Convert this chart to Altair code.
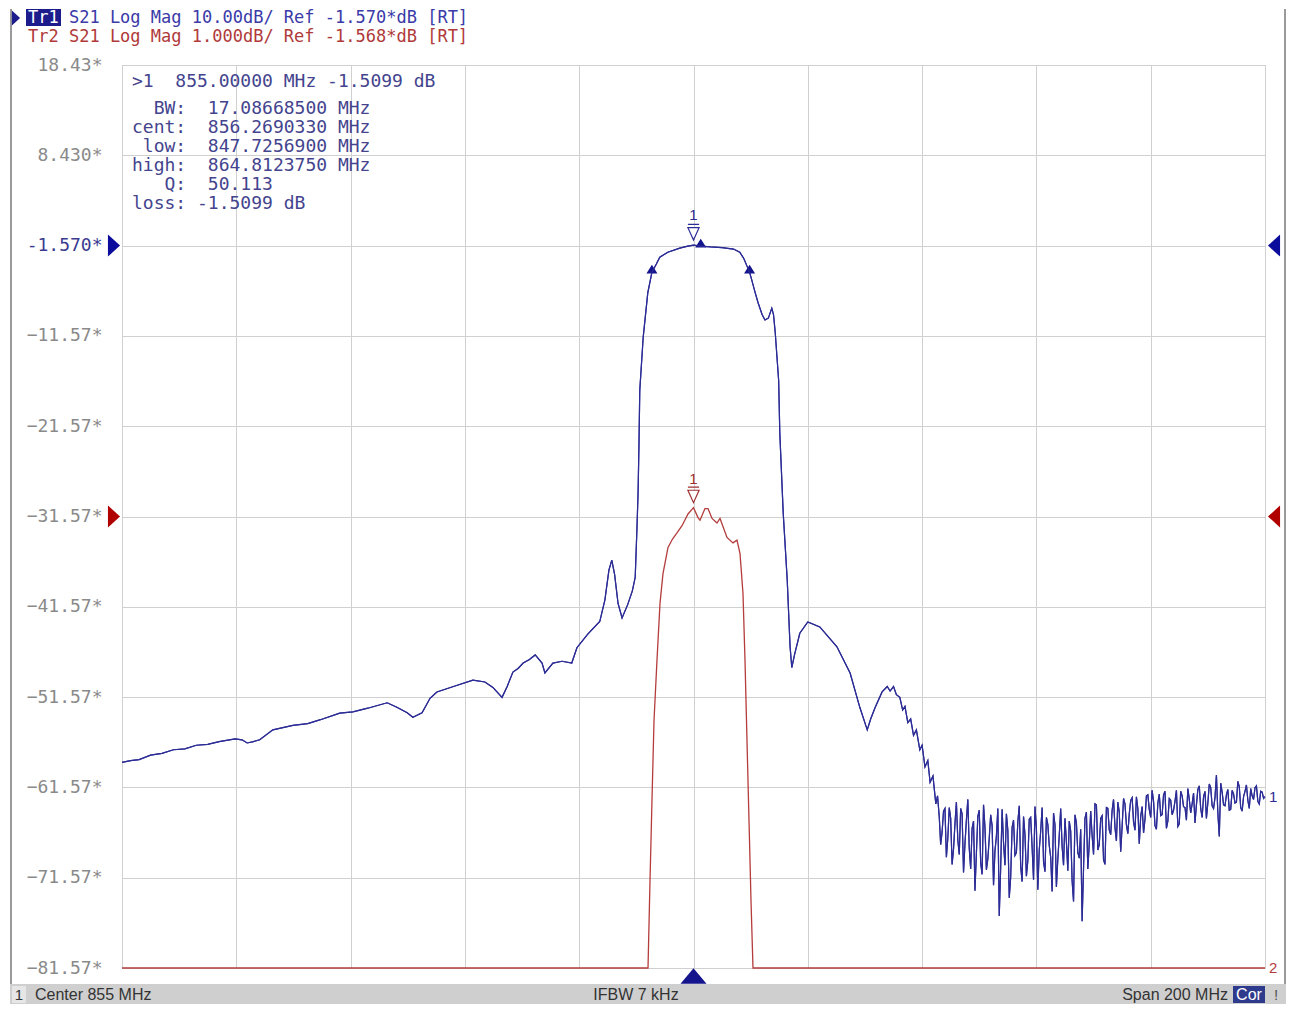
import altair as alt
import pandas as pd

# ---------------- data ----------------
X_GRID = [755, 775, 795, 815, 835, 855, 875, 895, 915, 935, 955]
Y_GRID = [18.43, 8.43, -1.57, -11.57, -21.57, -31.57, -41.57, -51.57, -61.57, -71.57, -81.57]

# Tr1 (S21, 10 dB/div) - smooth part
tr1_freq = [755.0, 756.5, 758.0, 760.0, 762.0, 764.0, 766.0, 768.0, 770.0, 772.0,
            774.8, 776.0, 776.9, 778.0, 779.1, 781.4, 784.9, 787.5, 789.6, 793.1,
            795.4, 798.0, 801.4, 803.1, 804.9, 805.9, 807.5, 808.9, 810.1, 813.0,
            816.4, 818.5, 819.9, 821.5, 822.4, 823.4, 824.3, 825.2, 826.3, 827.3,
            828.5, 829.0, 830.4, 832.0, 833.7, 834.6, 836.5, 838.6, 839.5, 840.2,
            840.7, 841.2, 841.8, 842.5, 843.5, 844.3, 844.8, 845.1, 845.3, 845.45,
            845.6, 846.2, 847.0, 847.73, 848.5, 849.1, 850.5, 852.6, 854.0, 855.0,
            856.27, 858.0, 860.0, 862.0, 863.1, 863.8, 864.4, 864.81, 865.2, 865.8,
            866.3, 867.0, 867.5, 868.1, 868.7, 869.0, 869.3, 869.9, 870.1, 870.7,
            871.4, 871.9, 872.2, 872.7, 873.6, 875.0, 877.1, 880.1, 882.4, 884.1,
            885.4, 886.0, 886.8, 888.0, 888.9, 889.4, 890.0, 890.5, 891.1, 891.6,
            892.0, 892.5, 893.0, 893.5, 894.0, 894.6, 895.0, 895.5, 896.0, 896.4,
            896.9, 897.4, 897.7]
tr1_db = [-58.8, -58.6, -58.5, -58.0, -57.8, -57.4, -57.3, -56.9, -56.8, -56.5,
          -56.2, -56.3, -56.65, -56.5, -56.3, -55.2, -54.7, -54.5, -54.1, -53.35,
          -53.2, -52.8, -52.2, -52.7, -53.3, -53.8, -53.3, -51.7, -51.0, -50.4,
          -49.7, -49.9, -50.5, -51.6, -50.4, -48.8, -48.4, -47.8, -47.4, -46.9,
          -47.8, -48.9, -47.8, -47.6, -47.8, -46.1, -44.6, -43.2, -40.8, -37.5,
          -36.4, -38.0, -41.2, -42.8, -41.3, -39.8, -38.3, -33.0, -29.0, -23.9,
          -17.6, -11.7, -6.8, -4.51, -3.6, -2.85, -2.3, -1.85, -1.62, -1.51,
          -1.62, -1.72, -1.80, -1.95, -2.3, -3.0, -3.9, -4.51, -5.4, -6.8,
          -7.9, -9.2, -9.8, -9.6, -8.5, -9.2, -11.2, -16.5, -22.3, -31.2,
          -38.6, -46.0, -48.3, -46.8, -44.5, -43.25, -43.8, -46.0, -48.9, -52.7,
          -55.2, -54.0, -52.7, -51.0, -50.4, -50.9, -50.4, -51.3, -51.6, -53.0,
          -52.6, -54.4, -54.0, -55.8, -55.2, -57.4, -56.9, -59.3, -58.6, -61.0,
          -60.3, -63.4, -62.5]

# Tr1 noisy floor: sweep points every 0.25 MHz from 898 MHz, given as two interleaved lists
tr1_noise_start = 898.0
tr1_noise_step = 0.5
tr1_noise_db_a = [-64.8, -66.5, -63.9, -67.2, -65.0, -68.4, -63.2, -69.0, -64.5, -67.8,
                  -62.9, -70.6, -65.3, -68.9, -64.1, -71.2, -66.0, -69.5, -64.6, -72.4,
                  -67.0, -75.8, -64.0, -70.2, -66.3, -71.5, -65.2, -68.8, -63.6, -72.0,
                  -66.8, -69.7, -64.9, -71.8, -66.1, -68.5, -63.8, -70.9, -65.7, -69.3,
                  -64.4, -72.6, -66.9, -68.1, -65.0, -70.8, -66.4, -74.2, -65.5, -69.4,
                  -76.4, -65.0, -70.6, -64.2, -69.0, -63.5, -67.9, -64.7, -70.1, -63.9,
                  -66.8, -62.9, -67.5, -64.3, -65.9, -63.4, -66.7, -63.0, -65.4, -62.6,
                  -67.8, -63.7, -65.1, -62.4, -64.9, -63.1, -66.2, -62.3, -64.6, -62.0,
                  -65.3, -63.0, -64.1, -61.9, -65.6, -62.5, -63.8, -61.7, -64.4, -62.2,
                  -63.5, -61.4, -64.9, -62.0, -63.3, -61.6, -63.9, -60.2, -67.0, -62.1,
                  -63.6, -61.8, -64.0, -62.3, -63.2, -61.5, -64.2, -62.0, -63.0, -61.7,
                  -62.9, -61.4, -63.4, -62.1, -62.6]
tr1_noise_db_b = [-67.9, -64.2, -69.3, -63.8, -70.1, -65.6, -67.4, -63.9, -71.0, -65.2,
                  -68.3, -66.1, -73.0, -64.8, -69.9, -63.5, -70.7, -67.2, -65.8, -68.6,
                  -63.9, -70.4, -67.7, -64.5, -73.8, -66.0, -69.1, -65.4, -70.3, -64.8,
                  -71.4, -65.1, -68.2, -63.7, -72.9, -66.4, -69.8, -64.9, -68.0, -73.1,
                  -65.7, -69.5, -63.9, -70.2, -67.6, -65.3, -71.9, -64.6, -68.8, -66.2,
                  -70.5, -64.3, -67.8, -66.9, -63.4, -68.5, -65.0, -69.6, -63.8, -66.3,
                  -64.1, -66.0, -63.2, -68.7, -62.8, -65.7, -64.5, -62.7, -66.3, -63.9,
                  -64.8, -66.6, -62.5, -64.0, -61.9, -65.8, -63.3, -64.7, -62.4, -66.1,
                  -62.8, -64.6, -63.1, -65.9, -62.0, -63.7, -65.2, -62.9, -63.4, -65.5,
                  -61.8, -63.9, -62.6, -65.0, -61.2, -63.6, -62.7, -64.4, -61.1, -63.5,
                  -62.4, -64.1, -61.9, -63.3, -60.9, -63.8, -62.6, -61.3, -63.9, -62.5,
                  -61.6, -63.1, -62.0, -62.8]

# Tr2 (S21, 1 dB/div, ref -1.568 dB on the -31.57 grid line), in its own dB
tr2_freq = [755.0, 847.04, 847.39, 847.74, 848.09, 848.61, 849.14, 849.66, 850.54, 851.3,
            852.11, 852.99, 854.04, 855.0, 855.79, 856.14, 857.01, 857.54, 858.24, 859.11,
            859.64, 860.86, 861.91, 862.61, 863.14, 863.66, 864.01, 864.36, 864.71, 865.06,
            865.41, 955.0]
tr2_db = [-12.0, -6.6, -5.6, -4.7, -3.83, -3.16, -2.53, -2.20, -1.91, -1.82,
          -1.75, -1.67, -1.54, -1.47, -1.58, -1.61, -1.48, -1.48, -1.59, -1.64,
          -1.59, -1.80, -1.86, -1.83, -1.98, -2.42, -3.16, -4.05, -4.93, -5.82,
          -6.6, -12.0]

MARKER_FREQ = 855.0
BW_FREQS = [847.72569, 856.269033, 864.812375]
REF_LEVELS = [-1.57, -31.57]

HEADER_1 = "Tr1 S21 Log Mag 10.00dB/ Ref -1.570*dB [RT]"
HEADER_2 = "Tr2 S21 Log Mag 1.000dB/ Ref -1.568*dB [RT]"
MARKER_LINES = [
    ">1  855.00000 MHz -1.5099 dB",
    "  BW:  17.08668500 MHz",
    "cent:  856.2690330 MHz",
    " low:  847.7256900 MHz",
    "high:  864.8123750 MHz",
    "   Q:  50.113",
    "loss: -1.5099 dB",
]

# ---------------- styling ----------------
BLUE = "#2c2c96"
RED = "#b43c3c"
MONO = "DejaVu Sans Mono"
SANS = "Liberation Sans"
FS = 18
HFS = 17
W, H = 1143, 903

XS = alt.Scale(domain=[755, 955], nice=False, zero=False)
YS = alt.Scale(domain=[-81.57, 18.43], nice=False, zero=False)
AX = alt.Axis(values=X_GRID, grid=True, labels=False, ticks=False, domain=False,
              title=None, gridColor="#d0d0d0", gridWidth=1)
AY = alt.Axis(values=Y_GRID, grid=True, ticks=False, domain=False, title=None,
              gridColor="#d0d0d0", gridWidth=1, labelPadding=20,
              labelFont=MONO, labelFontSize=18, labelOverlap=False,
              labelColor={"condition": {"test": "datum.value == -1.57", "value": "#3a3a90"},
                          "value": "#8a8a8a"},
              labelExpr="datum.value == 8.43 ? '8.430*' : datum.value == -1.57 ? '-1.570*' : format(datum.value, '.2f') + '*'")


def X(field="freq"):
    return alt.X(f"{field}:Q", scale=XS, axis=AX)


def Y(field="db"):
    return alt.Y(f"{field}:Q", scale=YS, axis=AY)


def nb(s):
    return s.replace(" ", "\u00a0")


def label(text, x, y, color, size=FS, font=MONO, align="left", weight="normal"):
    lead = len(text) - len(text.lstrip(" "))
    if font == MONO and align == "left":
        x = x + lead * size * 0.602
    return alt.Chart(pd.DataFrame({"t": [nb(text.strip(" "))]})).mark_text(
        align=align, baseline="middle", font=font, fontSize=size, color=color, fontWeight=weight
    ).encode(x=alt.value(x), y=alt.value(y), text="t:N")


def box(x, x2, y, y2, color):
    return alt.Chart(pd.DataFrame({"a": [0]})).mark_rect(color=color).encode(
        x=alt.value(x), x2=alt.value(x2), y=alt.value(y), y2=alt.value(y2))


def vrule(x, y, y2, color, width):
    return alt.Chart(pd.DataFrame({"a": [0]})).mark_rule(color=color, strokeWidth=width).encode(
        x=alt.value(x), y=alt.value(y), y2=alt.value(y2))


# ---------------- tables ----------------
noise_freq_a = [tr1_noise_start + i * tr1_noise_step for i in range(len(tr1_noise_db_a))]
noise_freq_b = [tr1_noise_start + tr1_noise_step / 2 + i * tr1_noise_step for i in range(len(tr1_noise_db_b))]
df1 = pd.DataFrame({"freq": tr1_freq + noise_freq_a + noise_freq_b,
                    "db": tr1_db + tr1_noise_db_a + tr1_noise_db_b}).sort_values("freq")
df2 = pd.DataFrame({"freq": tr2_freq, "db": tr2_db})

tr1_at = dict(zip(tr1_freq, tr1_db))
tr2_at = dict(zip(tr2_freq, tr2_db))
mk1 = pd.DataFrame({"freq": [MARKER_FREQ], "db": [tr1_at[MARKER_FREQ]]})
mk2 = pd.DataFrame({"freq": [MARKER_FREQ], "db": [-31.57 + (tr2_at[MARKER_FREQ] + 1.568) * 10]})
bw = pd.DataFrame({"freq": BW_FREQS, "db": [tr1_at[847.73], tr1_at[856.27], tr1_at[864.81]]})
refs = pd.DataFrame({"db": REF_LEVELS, "c": ["#0c0c9c", "#b00000"]})
ends = pd.DataFrame({"freq": [955.0, 955.0], "db": [tr1_noise_db_a[-1], -81.57],
                     "t": ["1", "2"], "c": [BLUE, RED]})

# ---------------- layers ----------------
blue_line = alt.Chart(df1).mark_line(color=BLUE, strokeWidth=1.2).encode(x=X(), y=Y())

red_line = alt.Chart(df2).transform_calculate(
    disp="max(-81.57, -31.57 + (datum.db + 1.568) * 10)"
).mark_line(color=RED, strokeWidth=1.3).encode(x=X(), y=Y("disp"))

status = [
    box(-112, 1164, 919, 940, "#cfcfcf"),
    box(-110, -96, 921, 938, "#e6e6e6"),
    label("1", -103, 930, "#333333", 15, SANS, "center"),
    label("Center 855 MHz", -87, 930, "#333333", 16, SANS),
    label("IFBW 7 kHz", 514, 930, "#333333", 16, SANS, "center"),
    label("Span 200 MHz", 1106, 930, "#333333", 16, SANS, "right"),
    box(1111, 1143, 921, 938, "#2e3a8c"),
    label("Cor", 1127, 930, "white", 16, SANS, "center"),
    label("!", 1154, 930, "#555555", 15, SANS, "center"),
]

frame = [vrule(-111, -56, 919, "#9a9a9a", 2), vrule(1163, -56, 919, "#9a9a9a", 2)]

LEFT_TRI = "M -0.55 -1 L 0.55 0 L -0.55 1 Z"
RIGHT_TRI = "M 0.55 -1 L -0.55 0 L 0.55 1 Z"
left_refs = alt.Chart(refs).mark_point(shape=LEFT_TRI, size=484, filled=True, opacity=1).encode(
    x=alt.value(-8), y=Y(), color=alt.Color("c:N", scale=None))
right_refs = alt.Chart(refs).mark_point(shape=RIGHT_TRI, size=484, filled=True, opacity=1).encode(
    x=alt.value(1152), y=Y(), color=alt.Color("c:N", scale=None))

MARK_SHAPE = "M -0.7 -0.55 L 0.7 -0.55 L 0 1 Z M -0.7 -0.95 L 0.7 -0.95"


def marker(df, color, dy_tri, dy_txt):
    tri = alt.Chart(df).mark_point(shape=MARK_SHAPE, size=256, filled=True, fill="white",
                                   stroke=color, strokeWidth=1.2, opacity=1, yOffset=dy_tri).encode(
        x=X(), y=Y())
    txt = alt.Chart(df).mark_text(text="1", font=SANS, fontSize=15, color=color, dy=dy_txt).encode(
        x=X(), y=Y())
    return [tri, txt]


bw_marks = alt.Chart(bw).mark_point(shape="M -1 0.8 L 0 -0.8 L 1 0.8 Z", size=121, filled=True,
                                    color="#14148c", opacity=1, yOffset=-3).encode(x=X(), y=Y())

stim = alt.Chart(mk1).mark_point(shape="M -1 0.6 L 0 -0.6 L 1 0.6 Z", size=676, filled=True,
                                 color="#14148c", opacity=1).encode(x=X(), y=alt.value(911))

end_labels = alt.Chart(ends).mark_text(align="left", dx=4, font=SANS, fontSize=15).encode(
    x=X(), y=Y(), text="t:N", color=alt.Color("c:N", scale=None))

header = [
    box(-96, -61, -56, -39, "#1c1c8c"),
    label("Tr1", -94, -47, "white", HFS),
    label(HEADER_1[3:], -94 + 3 * HFS * 0.602, -47, "#3a3aa8", HFS),
    alt.Chart(pd.DataFrame({"a": [0]})).mark_point(shape=LEFT_TRI, size=225, filled=True,
                                                   color="#1c1c8c", opacity=1).encode(
        x=alt.value(-106), y=alt.value(-47)),
    label(HEADER_2, -94, -28, "#b03a3a", HFS),
]

box_rows = [17, 44, 63, 82, 101, 120, 139]
box_text = [label(t, 10, y, "#44448e") for t, y in zip(MARKER_LINES, box_rows)]

layers = ([blue_line, red_line] + status + frame + [left_refs, right_refs, bw_marks, stim]
          + marker(mk1, BLUE, -13, -30) + marker(mk2, "#a03030", -13, -29)
          + [end_labels] + header + box_text + [blue_line])

chart = alt.layer(*layers).properties(
    width=W, height=H,
    autosize=alt.AutoSizeParams(type="none"),
    padding={"left": 114, "top": 57, "right": 22, "bottom": 36},
    background="white",
).configure_view(stroke="#a0a0a0", strokeWidth=1)

chart.save("out.html", embed_options={"renderer": "svg", "actions": False})
